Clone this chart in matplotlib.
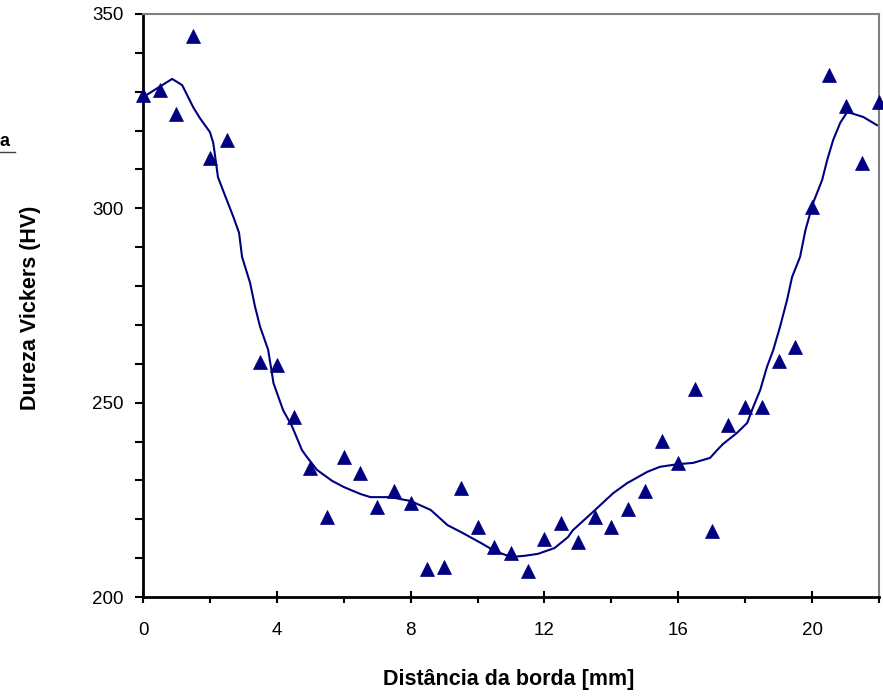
import matplotlib.pyplot as plt
from matplotlib.ticker import MultipleLocator
from matplotlib.lines import Line2D

# === данные: точки замеров ===
dist = [0, 0.5, 1.0, 1.5, 2.0, 2.5, 3.5, 4.0, 4.5, 5.0, 5.5, 6.0, 6.5, 7.0, 7.5,
        8.0, 8.5, 9.0, 9.5, 10.0, 10.5, 11.0, 11.5, 12.0, 12.5, 13.0, 13.5,
        14.0, 14.5, 15.0, 15.5, 16.0, 16.5, 17.0, 17.5, 18.0, 18.5, 19.0,
        19.5, 20.0, 20.5, 21.0, 21.5, 22.0]
hv = [329.2, 330.4, 324.3, 344.3, 313.0, 317.6, 260.5, 259.6, 246.3, 233.2,
      220.6, 236.0, 231.9, 223.2, 227.3, 224.2, 207.2, 207.7, 228.1, 218.0,
      212.9, 211.3, 206.7, 215.0, 219.0, 214.2, 220.6, 218.0, 222.7, 227.3,
      240.1, 234.5, 253.5, 217.0, 244.3, 248.9, 248.9, 260.7, 264.3, 300.3,
      334.3, 326.3, 311.7, 327.4]

# === линия тренда ===
trend_x = [0, 0.87, 1.17, 1.5, 1.7, 2.0, 2.1, 2.24, 2.5, 2.7, 2.87, 2.96, 3.2,
           3.35, 3.5, 3.74, 3.9, 4.19, 4.45, 4.75, 4.9, 5.2, 5.65, 6.0, 6.5,
           6.8, 7.4, 8.0, 8.6, 9.1, 9.55, 10.1, 10.5, 11.0, 11.4, 11.8, 12.3,
           12.7, 12.85, 13.45, 14.05, 14.47, 15.07, 15.45, 16.0, 16.44, 16.95,
           17.16, 17.34, 17.75, 18.06, 18.24, 18.45, 18.65, 18.84, 19.04,
           19.25, 19.4, 19.64, 19.8, 20.03, 20.3, 20.45, 20.63, 20.84, 21.05,
           21.53, 21.94]
trend_y = [328.6, 333.3, 331.7, 326.0, 323.2, 319.6, 316.8, 308.0, 302.2,
           297.8, 293.7, 287.5, 280.8, 274.6, 269.5, 263.6, 255.0, 248.0,
           244.0, 237.8, 236.0, 232.7, 229.9, 228.3, 226.5, 225.7, 225.7,
           224.7, 222.4, 218.5, 216.5, 213.9, 211.9, 210.3, 210.6, 211.1,
           212.6, 215.4, 217.2, 221.9, 226.7, 229.3, 232.2, 233.5, 234.2,
           234.5, 235.8, 237.8, 239.4, 242.2, 244.8, 248.9, 253.3, 259.2,
           263.6, 269.5, 276.4, 282.3, 287.5, 294.4, 301.4, 307.3, 312.4,
           317.6, 322.0, 324.8, 323.5, 321.4]

NAVY = "#000080"
plt.rcParams["font.family"] = ["Liberation Sans", "DejaVu Sans"]

fig = plt.figure(figsize=(8.83, 6.96), dpi=100)
ax = fig.add_axes([0.162, 0.1422, 0.8335, 0.8377])

ax.plot(trend_x, trend_y, color=NAVY, lw=1.5, clip_on=False, zorder=2)
ax.plot(dist, hv, ls="none", marker="^", ms=9.5, color=NAVY, mec=NAVY,
        mew=0.5, clip_on=False, zorder=3)

ax.set_xlim(0, 22)
ax.set_ylim(200, 350)
ax.xaxis.set_major_locator(MultipleLocator(4))
ax.xaxis.set_minor_locator(MultipleLocator(2))
ax.yaxis.set_major_locator(MultipleLocator(50))
ax.yaxis.set_minor_locator(MultipleLocator(10))

# рамка: слева/снизу чёрная, сверху/справа серая
for s in ("left", "bottom"):
    ax.spines[s].set_linewidth(2)
    ax.spines[s].set_color("black")
for s in ("top", "right"):
    ax.spines[s].set_linewidth(1.5)
    ax.spines[s].set_color("#808080")

ax.tick_params(axis="x", which="major", direction="inout", length=8, width=1.5,
               pad=14, labelsize=13.5)
ax.tick_params(axis="x", which="minor", direction="out", length=4, width=1.5)
ax.tick_params(axis="y", which="both", direction="out", length=6, width=1.5,
               pad=8, labelsize=13.5)

ax.set_xlabel("Distância da borda [mm]", fontsize=15.5, fontweight="bold")
ax.xaxis.set_label_coords(0.497, -0.142)
ax.xaxis.label.set_va("center")
ax.set_ylabel("Dureza Vickers (HV)", fontsize=15.5, fontweight="bold")
ax.yaxis.set_label_coords(-0.1535, 0.496)
ax.yaxis.label.set_va("center")
ax.yaxis.label.set_ha("center")

# обрезанный фрагмент легенды слева
fig.text(4 / 883, 1 - 141 / 696, "a", fontsize=13, fontweight="bold",
         ha="center", va="center")
fig.add_artist(Line2D([0, 15 / 883], [1 - 152 / 696] * 2, color="#404040",
                      lw=1, transform=fig.transFigure))

fig.savefig("out.png", dpi=100)
